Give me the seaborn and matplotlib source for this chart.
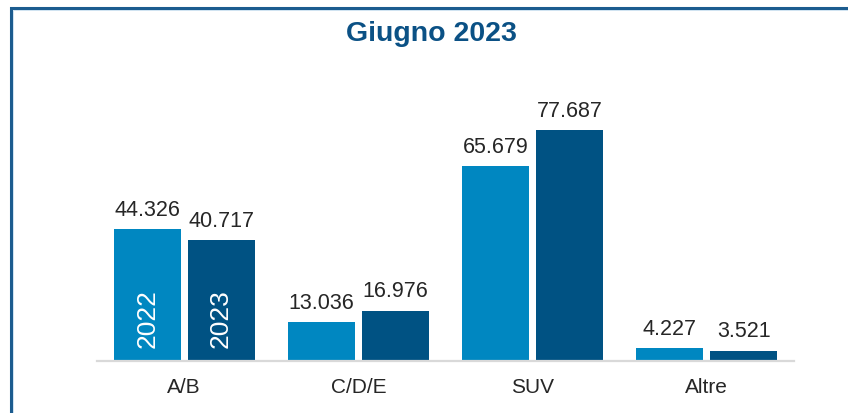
import matplotlib
matplotlib.use("Agg")
import matplotlib.pyplot as plt
import seaborn as sns
import pandas as pd
from matplotlib.patches import Rectangle

categories = ["A/B", "C/D/E", "SUV", "Altre"]
years = ["2022", "2023"]
values_2022 = [44326, 13036, 65679, 4227]
values_2023 = [40717, 16976, 77687, 3521]
title = "Giugno 2023"

df = pd.DataFrame({
    "cat": categories * 2,
    "year": [years[0]] * 4 + [years[1]] * 4,
    "val": values_2022 + values_2023,
})

sns.set_theme(style="white")
plt.rcParams["font.family"] = ["Liberation Sans", "DejaVu Sans"]

W, H = 848, 413
fig = plt.figure(figsize=(W / 100, H / 100), dpi=100)
ax = fig.add_axes([97 / W, (H - 361) / H, (794 - 97) / W, (361 - 108.5) / H])

palette = {"2022": "#0087C1", "2023": "#005283"}
sns.barplot(data=df, x="cat", y="val", hue="year", order=categories,
            hue_order=years, palette=palette, width=0.849, saturation=1,
            legend=False, ax=ax)

bw = 0.3845
for p in ax.patches:
    c = p.get_x() + p.get_width() / 2
    p.set_x(c - bw / 2)
    p.set_width(bw)
    p.set_linewidth(0)

ax.set_xlim(-0.5, 3.5)
ax.set_ylim(0, 85000)
ax.set_xlabel("")
ax.set_ylabel("")
ax.set_yticks([])
for s in ["top", "right", "left"]:
    ax.spines[s].set_visible(False)
ax.spines["bottom"].set_color("#D9D9D9")
ax.spines["bottom"].set_linewidth(1.6)
ax.tick_params(axis="x", length=0, pad=12.5, labelsize=15, labelcolor="#262626")

def fmt(v):
    return f"{v:,}".replace(",", ".")

for cont in ax.containers:
    for p in cont:
        v = p.get_height()
        ax.annotate(fmt(int(round(v))), (p.get_x() + p.get_width() / 2, v),
                    xytext=(0, 6), textcoords="offset points",
                    ha="center", va="bottom", fontsize=15.5, color="#262626")

# year labels inside first group bars
for cont, yr in zip(ax.containers, years):
    p = cont[0]
    ax.annotate(yr, (p.get_x() + p.get_width() / 2, 0),
                xytext=(0, 9.5), textcoords="offset points",
                rotation=90, ha="center", va="bottom",
                fontsize=19, color="white")

fig.text(431 / W, 1 - 34 / H, title, ha="center", va="center",
         fontsize=20.5, fontweight="bold", color="#0B5185")

# frame border (left and top visible)
fig.add_artist(Rectangle((10.5 / W, -0.5), 2, 1.5 - 7.5 / H,
                         transform=fig.transFigure, fill=False,
                         edgecolor="#1C5C8F", linewidth=2.2))
fig.add_artist(Rectangle((12.5 / W, -0.5), 2, 1.5 - 9.5 / H,
                         transform=fig.transFigure, fill=False,
                         edgecolor="#CFE3F1", linewidth=0.7))

fig.savefig("out.png", dpi=100)
